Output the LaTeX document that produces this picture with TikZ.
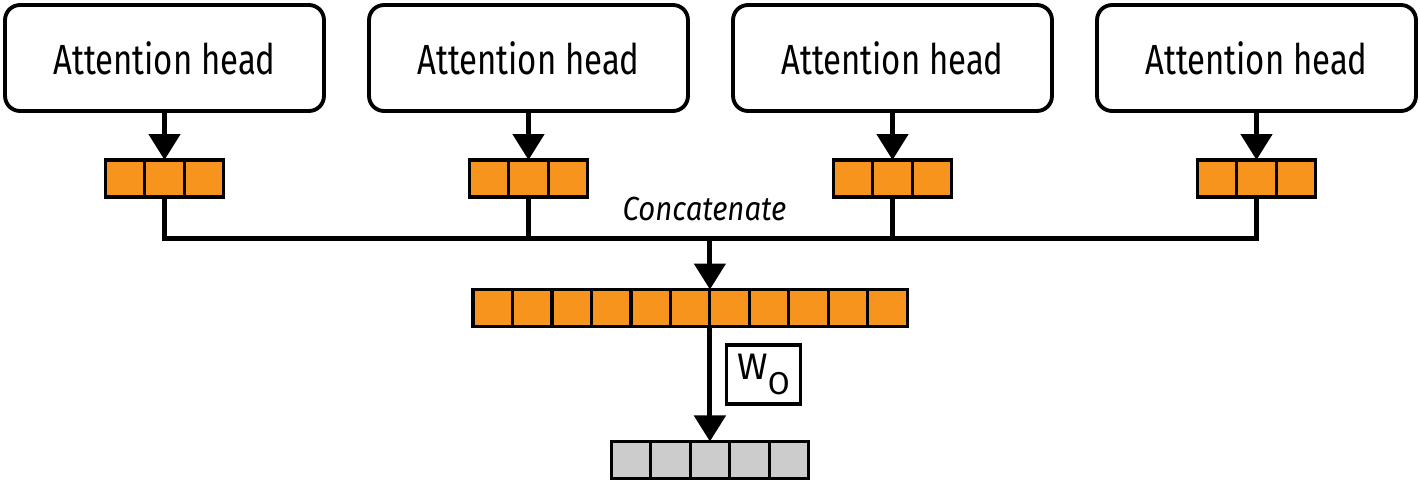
\documentclass[tikz,border=0pt]{standalone}
\usepackage{fontspec}
\setmainfont{Fira Sans}
\newfontfamily\condfont[FakeStretch=0.78]{Fira Sans}
\newfontfamily\labelfont[FakeStretch=0.88]{Fira Sans}
\usetikzlibrary{positioning,arrows.meta,calc}

\definecolor{vecorange}{HTML}{F7941D}
\definecolor{vecgray}{HTML}{CCCCCC}

\tikzset{
  headbox/.style={draw, line width=2.2pt, rounded corners=0.3cm,
    minimum width=6.38cm, minimum height=2.12cm,
    font=\condfont\fontsize{24}{28}\selectfont},
  cell/.style={draw, line width=1.8pt, fill=vecorange, minimum width=0.79cm,
    minimum height=0.74cm, inner sep=0pt, outer sep=0pt},
  graycell/.style={cell, fill=vecgray},
  flow/.style={line width=2.8pt},
  flowarrow/.style={flow, -{Triangle[width=0.62cm,length=0.52cm]}},
}

\begin{document}
\begin{tikzpicture}[x=0.02cm,y=-0.02cm]
  \useasboundingbox (0,0) rectangle (1420,483);

  % heads, each with its 3-cell output
  \foreach \i in {1,...,4}{
    \node[headbox] (h\i) at ({164.5+364*(\i-1)},58) {Attention head};
    \node[cell] (v\i2) at ({164.5+364*(\i-1)},178.5) {};
    \node[cell, left=0pt of v\i2] (v\i1) {};
    \node[cell, right=0pt of v\i2] (v\i3) {};
    \draw[flowarrow] (h\i) -- (v\i2);
  }

  % concatenated vector (11 cells)
  \node[cell] (c1) at (492.7,308) {};
  \foreach \j [count=\k] in {2,...,11}
    \node[cell, right=0pt of c\k] (c\j) {};

  \coordinate (bus) at ($(c6.north east)+(0,-51)$);
  \draw[flow] (v12.south) |- (bus) -| (v42.south);
  \draw[flow] (v22.south) -- (v22.south |- bus);
  \draw[flow] (v32.south) -- (v32.south |- bus);
  \draw[flowarrow] (bus) -- (c6.north east);
  \node[anchor=base, font=\labelfont\itshape\fontsize{19}{22}\selectfont]
    (concat) at (704.5,220) {Concatenate};

  % projected output (5 cells)
  \node[graycell, below=2.3cm of c6.south east] (o3) {};
  \node[graycell, left=0pt of o3] (o2) {};
  \node[graycell, left=0pt of o2] (o1) {};
  \node[graycell, right=0pt of o3] (o4) {};
  \node[graycell, right=0pt of o4] (o5) {};
  \draw[flowarrow] (c6.south east) -- (o3);

  \node[draw, line width=1.8pt, minimum width=1.48cm, minimum height=1.18cm,
    inner sep=0pt, font=\fontsize{21}{24}\selectfont]
    (wo) at (763.5,374.5) {W\raisebox{-0.4em}{\fontsize{18}{20}\selectfont O}};
\end{tikzpicture}
\end{document}
